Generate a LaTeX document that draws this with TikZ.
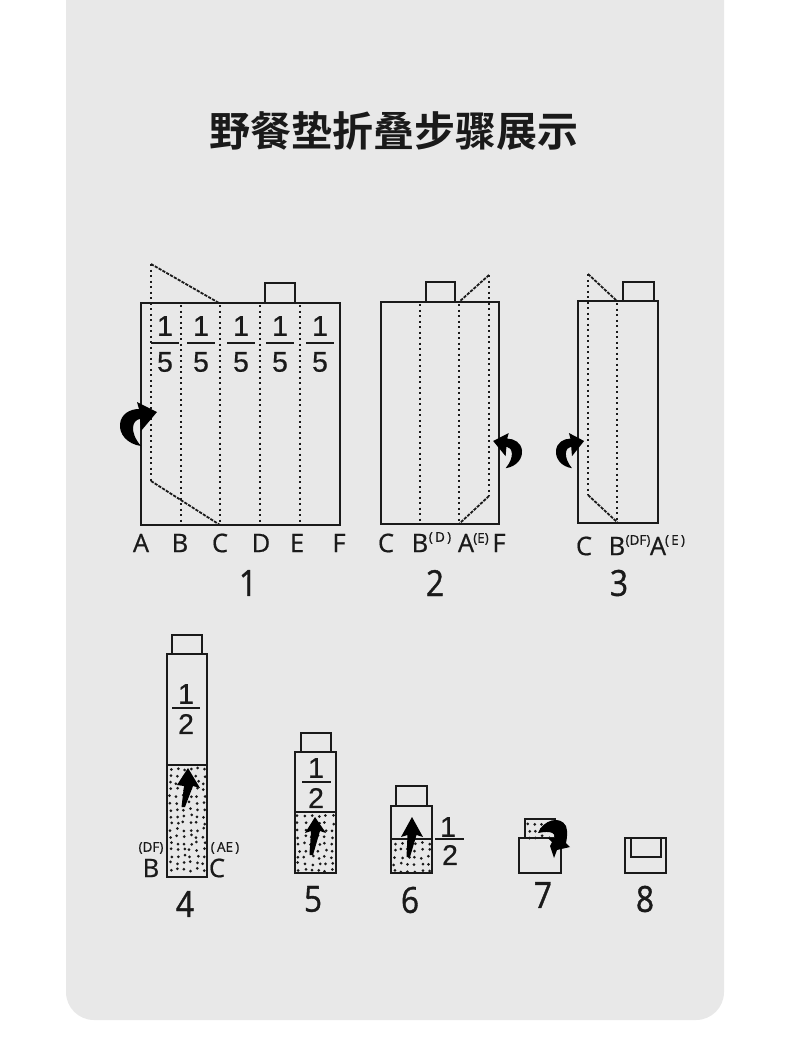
\documentclass[tikz,border=0pt]{standalone}
\usepackage{fontspec}
\setmainfont{Liberation Sans}
\newfontfamily\cjkbold{Noto Sans CJK SC Bold}
\newfontfamily\opensans[FakeBold=0.6]{Open Sans}
\newfontfamily\stepfont[FakeBold=1.0,FakeStretch=0.88]{Open Sans}
\newfontfamily\fracfont[FakeBold=0.5]{Liberation Sans}
\definecolor{panelgrey}{HTML}{E8E8E8}
\definecolor{ink}{HTML}{1A1A1A}
\tikzset{
  outline/.style={draw=ink,line width=2.3pt},
  creaseline/.style={draw=ink,line width=2.3pt,dash pattern=on 2.3pt off 3.2pt},
  flapline/.style={draw=ink,line width=1.8pt,dash pattern=on 3.2pt off 1.2pt},
  fracbar/.style={draw=ink,line width=1.8pt},
  fracdigit/.style={inner sep=0,text=ink,font=\fracfont\fontsize{28.5}{28.5}\selectfont},
  letterlab/.style={inner sep=0,text=ink,font=\opensans\fontsize{25.5}{25.5}\selectfont},
  smalllab/.style={inner sep=0,text=ink,font=\opensans\fontsize{13.5}{13.5}\selectfont},
  steplab/.style={inner sep=0,text=ink,font=\stepfont\fontsize{36}{36}\selectfont},
}
\newcommand{\curlarrow}[4]{%
  \begin{scope}[shift={(#1,#2)},xscale=#3,yscale=#4]
    \fill[black] (21,44) .. controls (7,42) and (-1,32) .. (0,22)
      .. controls (1,12) and (10,7) .. (19,7) -- (17,0) -- (37,10) -- (21,29) -- (20,17)
      .. controls (12,18) and (9,30) .. (21,44) -- cycle;
  \end{scope}}
\newcommand{\uparrowmark}[8]{% tip, left, right, tail
  \fill[black] (#1,#2) -- (#5,#6) -- ({(#3+#5)/2+4.5},{#6-2}) -- ({#7+2},#8)
     -- ({#7-1.5},#8) -- ({(#3+#5)/2-4.5},{#6-2}) -- (#3,#4) -- cycle;}
\newcommand{\stipple}[6]{% x0,y0,nx,ny,step,seed
  \pgfmathsetseed{#6}
  \foreach \ix in {1,...,#3}{\foreach \iy in {1,...,#4}{
    \pgfmathsetmacro{\px}{#1+(\ix-0.5)*#5+1.5*rand}
    \pgfmathsetmacro{\py}{#2+(\iy-0.5)*#5+1.5*rand}
    \fill[ink] (\px,\py) circle (1.5);
  }}}
\begin{document}
\begin{tikzpicture}[x=1pt,y=-1pt]
\useasboundingbox (0,0) rectangle (790,1037);
\fill[white] (0,0) rectangle (790,1037);
\fill[panelgrey] (66,0) [rounded corners=28pt] -- (66,1020) -- (724,1020) [sharp corners] -- (724,0) -- cycle;
\node[inner sep=0,text=ink,font=\cjkbold\fontsize{41}{41}\selectfont] (title) at (393.5,131) {野餐垫折叠步骤展示};

% ---------- diagram 1
\draw[outline] (265,303) -- (265,283) -- (295,283) -- (295,303);
\draw[outline] (141,303) rectangle (340,525);
\foreach \cx in {181,220,260,300} \draw[creaseline] (\cx,305) -- (\cx,524);
\draw[creaseline] (151,264) -- (151,481);
\draw[flapline] (151,264) -- (219,303);
\draw[flapline] (151,481) -- (220,525);
\foreach \cx/\bl/\br [count=\k] in {165/151/179,201/187/215,241/227/255,280/266/294,320/306/334}{
  \draw[fracbar] (\bl,343) -- (\br,343);
  \node[fracdigit] (ones\k) at (\cx,326) {1};
  \node[fracdigit] (five\k) at (\cx,362) {5};
}
\curlarrow{120}{402}{1}{1}
\node[letterlab] (a1) at (141,543) {A};
\node[letterlab] (b1) at (180,543) {B};
\node[letterlab] (c1) at (220,543) {C};
\node[letterlab] (d1) at (261,543) {D};
\node[letterlab] (e1) at (297,543) {E};
\node[letterlab] (f1) at (339,543) {F};
\node[steplab] (n1) at (248,583) {1};

% ---------- diagram 2
\draw[outline] (426,302) -- (426,282) -- (455,282) -- (455,302);
\draw[outline] (381,302) rectangle (499,524);
\foreach \cx in {420,459} \draw[creaseline] (\cx,304) -- (\cx,523);
\draw[creaseline] (489,275) -- (489,496);
\draw[flapline] (489,275) -- (459,302);
\draw[flapline] (489,496) -- (459,524);
\curlarrow{522}{433}{-0.78}{0.8}
\node[letterlab] (c2) at (386,543) {C};
\node[letterlab] (b2) at (420,543) {B};
\node[smalllab] (d2) at (440,538) {(\,D\,)};
\node[letterlab] (a2) at (466,543) {A};
\node[smalllab] (e2) at (481,539) {(E)};
\node[letterlab] (f2) at (499,543) {F};
\node[steplab] (n2) at (435,583) {2};

% ---------- diagram 3
\draw[outline] (623,301) -- (623,282) -- (654,282) -- (654,301);
\draw[outline] (578,301) rectangle (658,523);
\draw[creaseline] (617,303) -- (617,522);
\draw[creaseline] (588,274) -- (588,495);
\draw[flapline] (588,274) -- (617,301);
\draw[flapline] (588,495) -- (618,523);
\curlarrow{556}{433}{0.76}{0.8}
\node[letterlab] (c3) at (584,546) {C};
\node[letterlab] (b3) at (617,546) {B};
\node[smalllab] (df3) at (638,541) {(DF)};
\node[letterlab] (a3) at (658,546) {A};
\node[smalllab] (e3) at (675,541) {(\,E\,)};
\node[steplab] (n3) at (619,583) {3};

% ---------- diagram 4
\stipple{167}{766}{6}{16}{6.7}{11}
\draw[outline] (172,654) -- (172,635) -- (202,635) -- (202,654);
\draw[outline] (167,654) rectangle (207,877);
\draw[outline] (167,765) -- (207,765);
\draw[fracbar] (172,708) -- (200,708);
\node[fracdigit] (one4) at (186,694) {1};
\node[fracdigit] (two4) at (186,724) {2};
\uparrowmark{188}{768}{177}{785}{200}{788}{183}{807}
\node[smalllab] (df4) at (151,848) {(DF)};
\node[letterlab] (b4) at (151,868) {B};
\node[smalllab] (ae4) at (225,848) {(\,AE\,)};
\node[letterlab] (c4) at (217,868) {C};
\node[steplab] (n4) at (185,904) {4};

% ---------- diagram 5
\stipple{295}{813}{6}{9}{6.8}{23}
\draw[outline] (301,752) -- (301,733) -- (331,733) -- (331,752);
\draw[outline] (295,752) rectangle (336,873);
\draw[outline] (295,812) -- (336,812);
\draw[fracbar] (302,782) -- (331,782);
\node[fracdigit] (one5) at (316,768) {1};
\node[fracdigit] (two5) at (316,798) {2};
\uparrowmark{315}{817}{305}{833}{326}{833}{311}{855}
\node[steplab] (n5) at (313,899) {5};

% ---------- diagram 6
\stipple{391}{840}{6}{5}{6.8}{37}
\draw[outline] (396,806) -- (396,786) -- (427,786) -- (427,806);
\draw[outline] (391,806) rectangle (432,873);
\draw[outline] (391,839) -- (432,839);
\draw[fracbar] (435,839) -- (464,839);
\node[fracdigit] (one6) at (448,827) {1};
\node[fracdigit] (two6) at (450,855) {2};
\uparrowmark{412}{817}{401}{837}{423}{837}{408}{857}
\node[steplab] (n6) at (410,900) {6};

% ---------- diagram 7
\stipple{525}{820}{4}{3}{6.8}{41}
\draw[outline] (525,838) -- (525,819) -- (555,819) -- (555,838);
\draw[outline] (519,838) rectangle (561,873);
\fill[black] (538,833) .. controls (543,820) and (560,815) .. (566,826)
  .. controls (568,832) and (567,838) .. (566,843) -- (570,847) -- (557,850) -- (554,858)
  -- (550,846) -- (552,842) -- (548,838) -- (555,838)
  .. controls (556,834) and (552,830) .. (538,833) -- cycle;
\node[steplab] (n7) at (543,895) {7};

% ---------- diagram 8
\draw[outline] (625,838) rectangle (666,873);
\draw[outline] (631,838) -- (631,857) -- (661,857) -- (661,838);
\node[steplab] (n8) at (645,899) {8};
\end{tikzpicture}
\end{document}
